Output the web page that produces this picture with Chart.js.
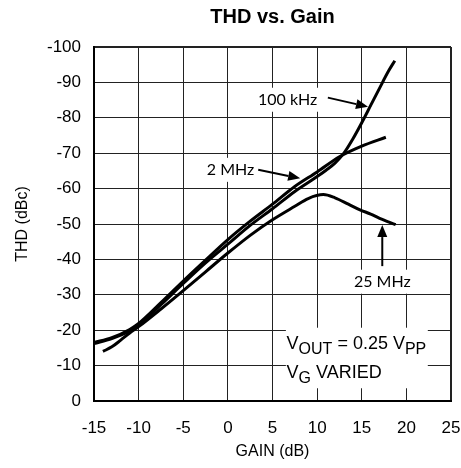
<!DOCTYPE html>
<html>
<head>
<meta charset="utf-8">
<title>THD vs. Gain</title>
<script src="https://cdn.jsdelivr.net/npm/chart.js@4.4.1/dist/chart.umd.min.js"></script>
<style>
  html, body { margin: 0; padding: 0; background: #fff; }
  canvas { display: block; }
</style>
</head>
<body>
<canvas id="thd" width="461" height="468"></canvas>
<script>
// THD (dBc), per output frequency
const GAIN_100K = [-15, -13, -11, -10, -7.5, -5, -2.5, 0, 2.5, 5, 7.5, 10, 11, 12, 13, 14, 15, 16, 17, 18, 18.7];
const THD_100K = [-16.2, -17.6, -19.8, -21.4, -27.2, -33.2, -39, -44.3, -49.6, -54.3, -59.2, -63.4, -65.2, -67.2, -70, -74, -78.6, -83.5, -88.4, -93.2, -96.1];

const GAIN_2M = [-15, -13, -11, -10, -7.5, -5, -2.5, 0, 2.5, 5, 7.5, 10, 12.5, 15, 17.7];
const THD_2M = [-16.5, -17.9, -20.2, -21.9, -27.8, -33.9, -39.8, -45.6, -50.8, -55.6, -60.6, -64.7, -69, -72, -74.5];

const GAIN_25M = [-14, -13, -12, -11, -10, -7.5, -5, -2.5, 0, 2.5, 5, 7.5, 9, 10.7, 12, 13.5, 14.8, 16, 17, 18.8];
const THD_25M = [-14, -15.3, -17.2, -19.2, -21, -26, -31.2, -36.5, -41.8, -46.8, -51.2, -55, -57.2, -58.3, -57.4, -55.6, -54, -52.8, -51.6, -49.8];

const SERIES = [
  { label: "100 kHz", gain: GAIN_100K, thd: THD_100K },
  { label: "2 MHz", gain: GAIN_2M, thd: THD_2M },
  { label: "25 MHz", gain: GAIN_25M, thd: THD_25M },
];

const X_MIN = -15, X_MAX = 25, X_STEP = 5;
const Y_MIN = -100, Y_MAX = 0, Y_STEP = 10;

// callout labels + arrows, in data units (gain, dBc)
const CALLOUTS = [
  { text: "100 kHz", at: [6.7, -85.1], from: [11.2, -85.7], to: [15.7, -83.1] },
  { text: "2 MHz", at: [0.3, -65.3], from: [3.4, -65.3], to: [8.1, -62.9] },
  { text: "25 MHz", at: [17.3, -33.7], from: [17.3, -38.1], to: [17.3, -49.7] },
];

const NOTE_BOX = { x0: 6.5, x1: 22.4, y0: -20.7, y1: -3.6, left: 6.58, lines: [-14.6, -6.4] };

const SANS = '"Liberation Sans", Arial, sans-serif';
const CALLOUT_FONT = '16px Lato, "Open Sans", sans-serif';

function drawArrow(ctx, x1, y1, x2, y2) {
  const ang = Math.atan2(y2 - y1, x2 - x1);
  const len = 12, half = 5;
  const c = Math.cos(ang), s = Math.sin(ang);
  ctx.beginPath();
  ctx.moveTo(x1, y1);
  ctx.lineTo(x2 - len * c, y2 - len * s);
  ctx.stroke();
  ctx.beginPath();
  ctx.moveTo(x2, y2);
  ctx.lineTo(x2 - len * c + half * s, y2 - len * s - half * c);
  ctx.lineTo(x2 - len * c - half * s, y2 - len * s + half * c);
  ctx.closePath();
  ctx.fill();
}

// writes V_OUT style text: [text, isSubscript] pieces
function drawRich(ctx, x, y, parts) {
  for (const [txt, sub] of parts) {
    ctx.font = sub ? "16px " + SANS : "18px " + SANS;
    ctx.fillText(txt, x, sub ? y + 5 : y);
    x += ctx.measureText(txt).width;
  }
}

const annotate = {
  id: "annotate",
  beforeDatasetsDraw(chart) {
    const { ctx, scales: { x, y } } = chart;
    const px = (v) => x.getPixelForValue(v);
    const py = (v) => y.getPixelForValue(v);
    ctx.save();
    ctx.lineWidth = 2;
    ctx.strokeStyle = "#000";
    ctx.font = CALLOUT_FONT;
    ctx.textAlign = "center";
    ctx.textBaseline = "middle";
    for (const c of CALLOUTS) {
      const cx = px(c.at[0]), cy = py(c.at[1]);
      const w = ctx.measureText(c.text).width + 8;
      ctx.fillStyle = "#fff";
      ctx.fillRect(cx - w / 2, cy - 12, w, 24);
      ctx.fillStyle = "#000";
      ctx.fillText(c.text, cx, cy);
      drawArrow(ctx, px(c.from[0]), py(c.from[1]), px(c.to[0]), py(c.to[1]));
    }

    const b = NOTE_BOX;
    ctx.fillStyle = "#fff";
    ctx.fillRect(px(b.x0), py(b.y0), px(b.x1) - px(b.x0), py(b.y1) - py(b.y0));
    ctx.fillStyle = "#000";
    ctx.textAlign = "left";
    ctx.textBaseline = "alphabetic";
    drawRich(ctx, px(b.left), py(b.lines[0]), [["V", 0], ["OUT", 1], [" = 0.25 V", 0], ["PP", 1]]);
    drawRich(ctx, px(b.left), py(b.lines[1]), [["V", 0], ["G", 1], [" VARIED", 0]]);
    ctx.restore();
  },
};

const datasets = SERIES.map((s) => ({
  label: s.label,
  data: s.gain.map((g, i) => ({ x: g, y: s.thd[i] })),
  borderColor: "#000",
  borderWidth: 3,
  pointRadius: 0,
  fill: false,
  cubicInterpolationMode: "monotone",
}));

new Chart(document.getElementById("thd"), {
  type: "line",
  data: { datasets },
  plugins: [annotate],
  options: {
    responsive: false,
    animation: false,
    layout: { padding: { top: 0, right: 10, bottom: 0, left: 0 } },
    plugins: {
      legend: { display: false },
      tooltip: { enabled: false },
      title: {
        display: true,
        text: "THD vs. Gain",
        fullSize: false,
        color: "#000",
        font: { family: SANS, size: 20, weight: "bold", lineHeight: 1.2 },
        padding: { top: 5, bottom: 18 },
      },
    },
    scales: {
      x: {
        type: "linear",
        min: X_MIN,
        max: X_MAX,
        ticks: { stepSize: X_STEP, color: "#000", font: { family: SANS, size: 17 }, padding: 17 },
        grid: {
          color: "#222",
          lineWidth: (c) => (c.tick && c.tick.value === X_MAX ? 2 : 1),
          drawTicks: false,
        },
        border: { color: "#000", width: 2 },
        title: {
          display: true,
          text: "GAIN (dB)",
          color: "#000",
          font: { family: SANS, size: 16 },
          padding: { top: 0, bottom: 7 },
        },
        // tick padding would otherwise widen the right margin
        afterFit: (s) => { s.height = 67; s.paddingRight = 10; s.paddingLeft = 0; },
      },
      y: {
        type: "linear",
        min: Y_MIN,
        max: Y_MAX,
        reverse: true,
        ticks: { stepSize: Y_STEP, color: "#000", font: { family: SANS, size: 17 }, padding: 13 },
        grid: {
          color: "#222",
          lineWidth: (c) => (c.tick && c.tick.value === Y_MIN ? 2 : 1),
          drawTicks: false,
        },
        border: { color: "#000", width: 2 },
        title: {
          display: true,
          text: "THD (dBc)",
          color: "#000",
          font: { family: SANS, size: 16 },
          padding: { top: 13, bottom: 0 },
        },
        afterFit: (s) => { s.width = 94; },
      },
    },
  },
});
</script>
</body>
</html>
